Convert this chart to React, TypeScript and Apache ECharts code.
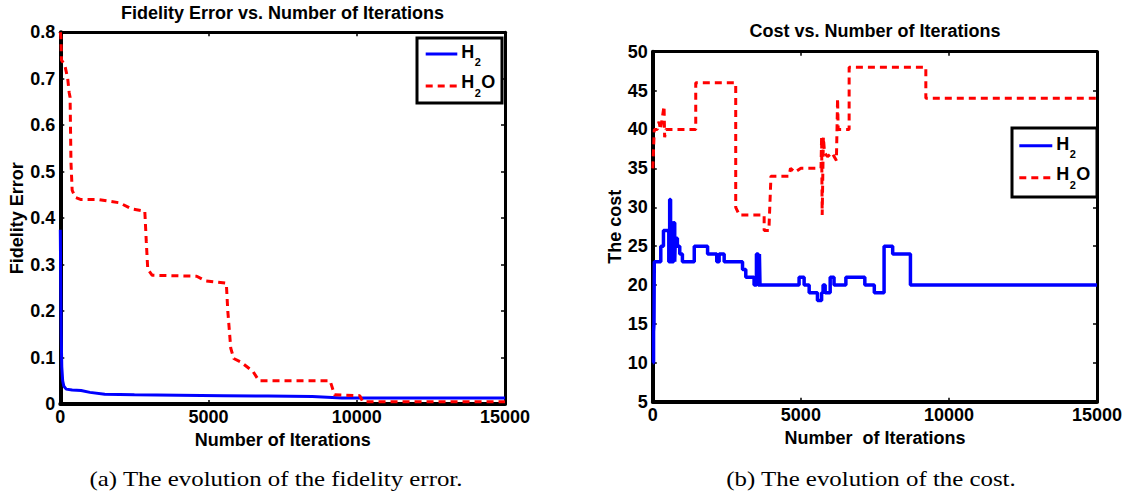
import React, { useEffect, useRef } from "react";
import * as echarts from "echarts";

// ---------- data ----------
const xTickMax = 15000;
const xTickStep = 5000;

// (a) fidelity error
const fidH2Iter = [0, 15, 30, 50, 80, 120, 200, 400, 700, 1000, 1500, 2500, 4000, 5500, 7000, 8500, 9500, 15000];
const fidH2Val = [0.375, 0.25, 0.15, 0.08, 0.05, 0.038, 0.032, 0.03, 0.029, 0.025, 0.021, 0.02, 0.019, 0.018, 0.017, 0.016, 0.013, 0.013];

const fidH2OIter = [0, 20, 40, 150, 250, 300, 330, 360, 400, 500, 700, 1300, 1500, 2000, 2400, 2850, 2900, 2950, 3100, 4600, 4900, 5600, 5650, 5750, 5850, 6100, 6500, 6700, 9100, 9150, 9250, 10100, 10200, 15000];
const fidH2OVal = [0.8, 0.79, 0.74, 0.73, 0.7, 0.67, 0.66, 0.52, 0.46, 0.445, 0.44, 0.44, 0.438, 0.433, 0.42, 0.415, 0.35, 0.29, 0.277, 0.275, 0.265, 0.26, 0.2, 0.12, 0.098, 0.09, 0.07, 0.05, 0.05, 0.04, 0.02, 0.018, 0.005, 0.005];

// (b) cost (H2 is a step series: value changes at each iteration listed)
const costH2Iter = [0, 25, 40, 50, 270, 360, 540, 570, 600, 630, 660, 700, 740, 760, 830, 910, 1000, 1400, 1850, 2160, 2240, 2410, 3030, 3140, 3420, 3500, 3560, 3600, 3620, 4940, 5110, 5280, 5560, 5700, 5750, 5820, 5990, 6120, 6520, 7160, 7480, 7810, 8100, 8700, 15000];
const costH2Val = [10, 14, 15, 23, 25, 27, 23, 31, 23, 28, 23, 28, 23, 26, 25, 24, 23, 25, 24, 23, 24, 23, 22, 21, 20, 24, 20, 24, 20, 21, 20, 19, 18, 19, 20, 19, 21, 20, 21, 20, 19, 25, 24, 20, 20];

const costH2OIter = [0, 30, 50, 150, 210, 260, 300, 380, 400, 440, 1450, 1450, 2800, 2800, 2920, 3760, 3760, 3920, 3990, 4600, 4650, 4800, 5000, 5680, 5700, 5720, 5760, 5800, 5900, 6050, 6200, 6240, 6260, 6630, 6630, 9220, 9220, 15000];
const costH2OVal = [35, 38, 40, 40, 41, 40, 41, 43, 39, 40, 40, 46, 46, 30, 29, 29, 27, 27, 34, 34, 35, 34.5, 35, 35, 39, 29, 39, 37, 36.5, 37, 36, 44, 40, 40, 48, 48, 44, 44];

const legendNames = ["H", "2", "O"];
const chartTitles = ["Fidelity Error vs. Number of Iterations", "Cost vs. Number of Iterations"];
const xNames = ["Number of Iterations", "Number  of Iterations"];
const yNames = ["Fidelity Error", "The cost"];
const captions = ["(a) The evolution of the fidelity error.", "(b) The evolution of the cost."];

const zip = (xs: number[], ys: number[]) => xs.map((x, i) => [x, ys[i]]);

const SANS = '"Liberation Sans", Arial, Helvetica, sans-serif';
const SERIF = '"Liberation Serif", "Times New Roman", serif';
const BLUE = "#0000ff";
const RED = "#ff0000";

const tickStyle = { show: true, inside: true, length: 4, lineStyle: { color: "#000", width: 1.5 } };
const labelStyle = { color: "#000", fontSize: 18, fontWeight: "bold", fontFamily: SANS };
const nameStyle = { color: "#000", fontSize: 18, fontWeight: "bold", fontFamily: SANS };

function frameAxes(gridIndex: number, yMin: number, yMax: number, yStep: number, yFmt: (v: number) => string, xName: string, yName: string, yGap: number) {
  const xs = [
    {
      type: "value", gridIndex, position: "bottom", min: 0, max: xTickMax, interval: xTickStep,
      axisLine: { show: true, onZero: false, lineStyle: { color: "#000", width: 4 } },
      axisTick: tickStyle, splitLine: { show: false },
      axisLabel: { ...labelStyle, margin: 4, formatter: (v: number) => String(v) },
      name: xName, nameLocation: "middle", nameGap: 23, nameTextStyle: nameStyle,
    },
    {
      type: "value", gridIndex, position: "top", min: 0, max: xTickMax, interval: xTickStep,
      axisLine: { show: true, onZero: false, lineStyle: { color: "#000", width: 3 } },
      axisTick: tickStyle, splitLine: { show: false }, axisLabel: { show: false },
    },
  ];
  const ys = [
    {
      type: "value", gridIndex, position: "left", min: yMin, max: yMax, interval: yStep,
      axisLine: { show: true, onZero: false, lineStyle: { color: "#000", width: 4 } },
      axisTick: tickStyle, splitLine: { show: false },
      axisLabel: { ...labelStyle, margin: 5, formatter: yFmt },
      name: yName, nameLocation: "middle", nameGap: yGap, nameTextStyle: nameStyle,
    },
    {
      type: "value", gridIndex, position: "right", min: yMin, max: yMax, interval: yStep,
      axisLine: { show: true, onZero: false, lineStyle: { color: "#000", width: 3 } },
      axisTick: tickStyle, splitLine: { show: false }, axisLabel: { show: false },
    },
  ];
  return { xs, ys };
}

function legend(bx: number, by: number, bw: number, bh: number, y1: number, y2: number, lx1: number, lx2: number) {
  const tx = lx2 + 4;
  const bold = (s: number) => `bold ${s}px ${SANS}`;
  return [
    { type: "rect", shape: { x: bx, y: by, width: bw, height: bh }, style: { fill: "#fff", stroke: "#000", lineWidth: 3 }, z: 10 },
    { type: "line", shape: { x1: lx1, y1, x2: lx2, y2: y1 }, style: { stroke: BLUE, lineWidth: 3 }, z: 11 },
    { type: "line", shape: { x1: lx1, y1: y2, x2: lx2, y2 }, style: { stroke: RED, lineWidth: 3, lineDash: [7, 5] }, z: 11 },
    { type: "text", x: tx, y: y1 - 2, style: { text: legendNames[0], font: bold(18), fill: "#000", verticalAlign: "middle" }, z: 11 },
    { type: "text", x: tx + 13.5, y: y1 + 8, style: { text: legendNames[1], font: bold(11), fill: "#000", verticalAlign: "middle" }, z: 11 },
    { type: "text", x: tx, y: y2 - 4, style: { text: legendNames[0], font: bold(18), fill: "#000", verticalAlign: "middle" }, z: 11 },
    { type: "text", x: tx + 13.5, y: y2 + 7, style: { text: legendNames[1], font: bold(11), fill: "#000", verticalAlign: "middle" }, z: 11 },
    { type: "text", x: tx + 20, y: y2 - 4, style: { text: legendNames[2], font: bold(18), fill: "#000", verticalAlign: "middle" }, z: 11 },
  ];
}

export default function App() {
  const ref = useRef<HTMLDivElement>(null);
  useEffect(() => {
    if (!ref.current) return;
    const chart = echarts.init(ref.current, null, { renderer: "svg" });
    const a = frameAxes(0, 0, 0.8, 0.1, (v: number) => (v === 0 ? "0" : v.toFixed(1)), xNames[0], yNames[0], 28);
    const b = frameAxes(1, 5, 50, 5, (v: number) => String(Math.round(v)), xNames[1], yNames[1], 29);
    const option: any = {
      animation: false,
      backgroundColor: "#fff",
      grid: [
        { left: 60.3, top: 32.3, width: 444.7, height: 371.7 },
        { left: 652.8, top: 51.7, width: 444.2, height: 350 },
      ],
      xAxis: [...a.xs, ...b.xs],
      yAxis: [...a.ys, ...b.ys],
      series: [
        { type: "line", name: "H2", xAxisIndex: 0, yAxisIndex: 0, data: zip(fidH2Iter, fidH2Val), showSymbol: false, lineStyle: { color: BLUE, width: 3 }, z: 3 },
        { type: "line", name: "H2O", xAxisIndex: 0, yAxisIndex: 0, data: zip(fidH2OIter, fidH2OVal), showSymbol: false, lineStyle: { color: RED, width: 3, type: [7, 5] }, z: 4 },
        { type: "line", name: "H2", xAxisIndex: 2, yAxisIndex: 2, step: "end", data: zip(costH2Iter, costH2Val), showSymbol: false, lineStyle: { color: BLUE, width: 3.5 }, z: 3 },
        { type: "line", name: "H2O", xAxisIndex: 2, yAxisIndex: 2, data: zip(costH2OIter, costH2OVal), showSymbol: false, lineStyle: { color: RED, width: 3, type: [7, 5] }, z: 4 },
      ],
      graphic: [
        { type: "text", x: 282.5, y: 13, style: { text: chartTitles[0], font: `bold 18px ${SANS}`, fill: "#000", align: "center", verticalAlign: "middle" } },
        { type: "text", x: 875, y: 31, style: { text: chartTitles[1], font: `bold 18px ${SANS}`, fill: "#000", align: "center", verticalAlign: "middle" } },
        { type: "text", x: 276, y: 479, scaleX: 1.13, style: { text: captions[0], font: `22px ${SERIF}`, fill: "#000", align: "center", verticalAlign: "middle" } },
        { type: "text", x: 871, y: 479, scaleX: 1.13, style: { text: captions[1], font: `22px ${SERIF}`, fill: "#000", align: "center", verticalAlign: "middle" } },
        ...legend(417, 38, 85, 65, 54, 86, 425.7, 457.3),
        ...legend(1012, 128, 85, 69, 145.7, 177.7, 1019.3, 1052.3),
      ],
    };
    chart.setOption(option);
    return () => chart.dispose();
  }, []);
  return (
    <div style={{ position: "fixed", left: 0, top: 0, width: 1132, height: 496, background: "#fff" }}>
      <div ref={ref} style={{ width: 1132, height: 496 }} />
    </div>
  );
}
